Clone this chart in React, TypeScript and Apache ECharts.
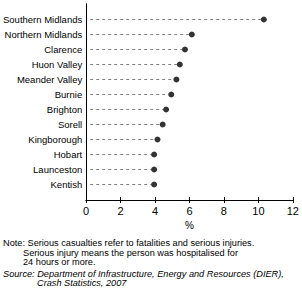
import React, { useEffect, useRef } from "react";
import * as echarts from "echarts";

const categories = [
  "Southern Midlands",
  "Northern Midlands",
  "Clarence",
  "Huon Valley",
  "Meander Valley",
  "Burnie",
  "Brighton",
  "Sorell",
  "Kingborough",
  "Hobart",
  "Launceston",
  "Kentish",
];
const values = [10.3, 6.1, 5.7, 5.4, 5.2, 4.9, 4.6, 4.4, 4.1, 3.9, 3.9, 3.9];
const xMin = 0;
const xMax = 12;
const xInterval = 2;
const xAxisName = "%";
const noteLines = [
  "Note: Serious casualties refer to fatalities and serious injuries.",
  "Serious injury means the person was hospitalised for",
  "24 hours or more.",
];
const sourceLines = [
  "Source: Department of Infrastructure, Energy and Resources (DIER),",
  "Crash Statistics, 2007",
];

const FONT = "'Liberation Sans', Arial, sans-serif";

export default function App() {
  const ref = useRef<HTMLDivElement>(null);
  useEffect(() => {
    if (!ref.current) return;
    const chart = echarts.init(ref.current, undefined, { renderer: "svg" });
    const data = categories.map((c, i) => [values[i], c]);
    const noteText = (t: string, x: number, y: number, italic = false) => ({
      type: "text",
      x,
      y,
      style: {
        text: t,
        fill: "#000",
        font: `${italic ? "italic " : ""}9.2px ${FONT}`,
        textVerticalAlign: "middle",
      },
    });
    chart.setOption({
      animation: false,
      backgroundColor: "#fff",
      grid: [
        { left: 86, right: 9, top: 12, bottom: 110 },
        { left: 86, right: 9, top: 4, bottom: 102 },
      ],
      xAxis: [
        { type: "value", gridIndex: 0, min: xMin, max: xMax, interval: xInterval, show: false },
        {
          type: "value",
          gridIndex: 1,
          min: xMin,
          max: xMax,
          interval: xInterval,
          position: "bottom",
          axisLine: { show: true, lineStyle: { color: "#000", width: 1 } },
          axisTick: { show: true, length: 3, lineStyle: { color: "#000" } },
          splitLine: { show: false },
          axisLabel: { color: "#000", fontSize: 11, fontFamily: FONT, margin: 5 },
          name: xAxisName,
          nameLocation: "middle",
          nameGap: 20,
          nameTextStyle: { color: "#000", fontSize: 10, fontFamily: FONT },
        },
        {
          type: "value",
          gridIndex: 1,
          min: xMin,
          max: xMax,
          interval: xInterval,
          position: "top",
          axisLine: { show: true, lineStyle: { color: "#000", width: 1 } },
          axisTick: { show: true, length: 3, lineStyle: { color: "#000" } },
          splitLine: { show: false },
          axisLabel: { show: false },
        },
      ],
      yAxis: [
        {
          type: "category",
          gridIndex: 0,
          data: categories,
          inverse: true,
          axisLine: { show: false },
          axisTick: { show: false },
          splitLine: { show: false },
          axisLabel: { color: "#000", fontSize: 9.5, fontFamily: FONT, margin: 5 },
        },
        {
          type: "value",
          gridIndex: 1,
          position: "left",
          min: 0,
          max: 1,
          axisLine: { show: true, lineStyle: { color: "#000" } },
          axisTick: { show: false },
          axisLabel: { show: false },
          splitLine: { show: false },
        },
        {
          type: "value",
          gridIndex: 1,
          position: "right",
          min: 0,
          max: 1,
          axisLine: { show: true, lineStyle: { color: "#000" } },
          axisTick: { show: false },
          axisLabel: { show: false },
          splitLine: { show: false },
        },
      ],
      series: [
        {
          type: "custom",
          xAxisIndex: 0,
          yAxisIndex: 0,
          data,
          encode: { x: 0, y: 1 },
          renderItem: (params: any, api: any) => {
            const y = api.value(1);
            const v = api.value(0);
            const s = api.coord([0, y]);
            const e = api.coord([v, y]);
            return {
              type: "line",
              shape: { x1: s[0] + 3, y1: s[1], x2: e[0] - 3, y2: e[1] },
              style: { stroke: "#808080", lineWidth: 1, lineDash: [3, 3] },
            };
          },
        },
        {
          type: "scatter",
          xAxisIndex: 0,
          yAxisIndex: 0,
          data,
          symbol: "circle",
          symbolSize: 6,
          itemStyle: { color: "#000" },
        },
      ],
      graphic: [
        noteText(noteLines[0], 3, 243),
        noteText(noteLines[1], 23, 252.5),
        noteText(noteLines[2], 23, 262),
        noteText(sourceLines[0], 3, 274, true),
        noteText(sourceLines[1], 37, 283, true),
      ],
    });
    return () => chart.dispose();
  }, []);
  return (
    <div
      ref={ref}
      style={{ position: "absolute", left: 0, top: 0, width: 302, height: 302 }}
    />
  );
}
